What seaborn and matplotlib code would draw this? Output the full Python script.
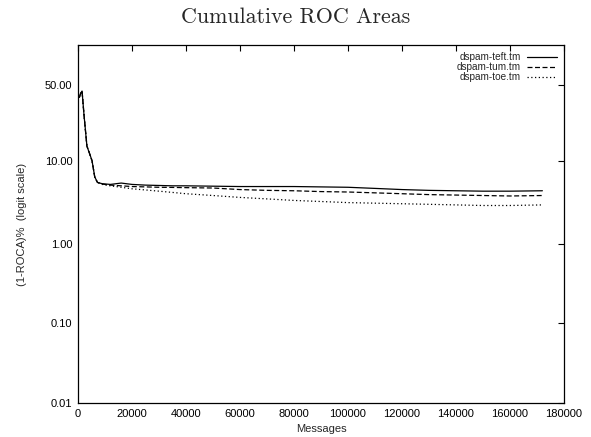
import numpy as np
import pandas as pd
import matplotlib
matplotlib.use("Agg")
import matplotlib.pyplot as plt
import matplotlib.ticker as mticker
import seaborn as sns

# --------------------------------------------------------------
# Data (values in percent)
# --------------------------------------------------------------

messages = [500, 1000, 1500, 2200, 3300, 4300, 5200, 6200, 7200, 9000,
            12000, 16000, 20000, 25000, 30000, 35000, 40000, 50000, 60000,
            70000, 80000, 90000, 100000, 110000, 120000, 130000, 140000,
            150000, 160000, 172000]

teft = [41.0, 44.0, 45.5, 30.0, 14.5, 12.0, 10.0, 6.5, 5.6, 5.4,
        5.3, 5.5, 5.3, 5.2, 5.15, 5.1, 5.1, 5.05, 5.0,
        5.0, 5.0, 4.95, 4.9, 4.75, 4.6, 4.5, 4.45,
        4.4, 4.4, 4.45]

tum = [41.0, 44.0, 45.5, 30.0, 14.5, 12.0, 10.0, 6.5, 5.6, 5.35,
       5.2, 5.1, 5.0, 4.95, 4.9, 4.88, 4.85, 4.8, 4.6,
       4.5, 4.45, 4.35, 4.3, 4.2, 4.1, 4.0, 3.95,
       3.9, 3.85, 3.9]

toe = [41.0, 44.0, 45.5, 30.0, 14.5, 12.0, 10.0, 6.5, 5.6, 5.3,
       5.1, 4.9, 4.7, 4.55, 4.4, 4.25, 4.1, 3.9, 3.7,
       3.55, 3.4, 3.3, 3.2, 3.15, 3.1, 3.05, 3.0,
       2.95, 2.95, 3.0]

series_names = ["dspam-teft.tm", "dspam-tum.tm", "dspam-toe.tm"]
y_ticks_pct = [0.01, 0.10, 1.00, 10.00, 50.00]

df = pd.concat([
    pd.DataFrame({"Messages": messages, "value": np.array(vals) / 100.0, "series": name})
    for name, vals in zip(series_names, [teft, tum, toe])
])

# --------------------------------------------------------------
# Plot
# --------------------------------------------------------------

sns.set_style("white")
plt.rcParams["font.family"] = ["Liberation Sans", "DejaVu Sans"]

fig = plt.figure(figsize=(5.91, 4.37), dpi=100)
ax = fig.add_axes([78 / 591, 1 - 403 / 437, (564 - 78) / 591, (403 - 45) / 437])

ax.set_yscale("logit")
sns.lineplot(data=df, x="Messages", y="value", style="series", hue="series",
             palette=["black"] * 3, estimator=None, linewidth=0.9,
             dashes={"dspam-teft.tm": "", "dspam-tum.tm": (4, 2), "dspam-toe.tm": (1, 2)},
             ax=ax)

ax.set_xlim(0, 180000)
ax.set_ylim(0.0001, 0.76)
ax.set_xticks(range(0, 180001, 20000))
ax.set_yticks([v / 100 for v in y_ticks_pct])
ax.yaxis.set_minor_locator(mticker.NullLocator())
ax.yaxis.set_major_formatter(mticker.FuncFormatter(lambda v, pos: f"{v * 100:.2f}"))
ax.xaxis.set_major_formatter(mticker.FuncFormatter(lambda v, pos: f"{int(v)}"))

ax.tick_params(direction="in", length=4, width=0.8, top=True, right=True,
               labelsize=8, colors="black", pad=4)
for sp in ax.spines.values():
    sp.set_linewidth(0.9)
    sp.set_color("black")

ax.set_xlabel("Messages", fontsize=8, labelpad=4)
ax.set_ylabel("(1-ROCA)%  (logit scale)", fontsize=8, labelpad=13)

leg = ax.legend(loc="upper right", frameon=False, markerfirst=False, fontsize=7.2,
                handlelength=3.0, labelspacing=0.0, borderaxespad=0.3,
                handletextpad=0.6)

fig.text(0.5, 1 - 17 / 437, "Cumulative ROC Areas", ha="center", va="center",
         fontsize=15.8, family=["cmr10", "DejaVu Serif"])

fig.savefig("out.png", dpi=100)
